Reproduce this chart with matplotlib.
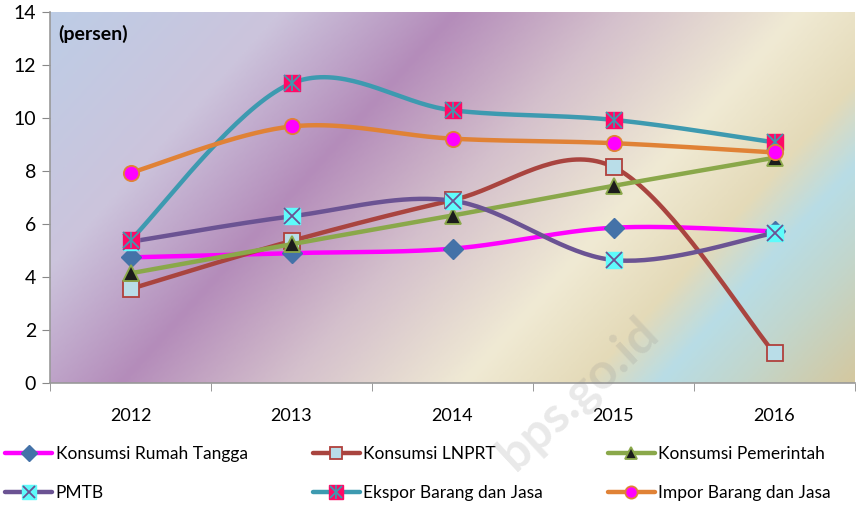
import numpy as np
import matplotlib.pyplot as plt
from matplotlib.colors import LinearSegmentedColormap
from matplotlib.legend_handler import HandlerTuple
from matplotlib.lines import Line2D

plt.rcParams['font.family'] = ['Lato', 'DejaVu Sans']

tahun = ['2012', '2013', '2014', '2015', '2016']

rumah_tangga = [4.74, 4.90, 5.07, 5.86, 5.72]
lnprt = [3.55, 5.36, 6.90, 8.15, 1.12]
pemerintah = [4.14, 5.24, 6.32, 7.44, 8.50]
pmtb = [5.33, 6.29, 6.88, 4.64, 5.66]
ekspor = [5.39, 11.31, 10.29, 9.93, 9.08]
impor = [7.93, 9.68, 9.22, 9.05, 8.70]


def halus(y, n=40):
    # kurva mulus ala Excel (Bezier dari titik tetangga)
    x = np.arange(len(y), dtype=float)
    y = np.asarray(y, dtype=float)
    xs, ys = [], []
    for i in range(len(y) - 1):
        i0 = max(i - 1, 0)
        i3 = min(i + 2, len(y) - 1)
        p0 = np.array([x[i], y[i]])
        p3 = np.array([x[i + 1], y[i + 1]])
        c1 = p0 + (np.array([x[i + 1], y[i + 1]]) - np.array([x[i0], y[i0]])) / 6
        c2 = p3 - (np.array([x[i3], y[i3]]) - np.array([x[i], y[i]])) / 6
        t = np.linspace(0, 1, n)[:, None]
        b = (1 - t) ** 3 * p0 + 3 * (1 - t) ** 2 * t * c1 + 3 * (1 - t) * t ** 2 * c2 + t ** 3 * p3
        xs.extend(b[:, 0]); ys.extend(b[:, 1])
    return np.array(xs), np.array(ys)


fig = plt.figure(figsize=(8.57, 5.08), dpi=100)
ax = fig.add_axes([50 / 857, 1 - 383 / 508, 805 / 857, 371 / 508])

# latar gradien diagonal (baris 0 = atas), koordinat piksel
px = np.linspace(50, 855, 400)
py = np.linspace(12, 383, 200)
PX, PY = np.meshgrid(px, py)
T = (PX + 0.9 * PY - 60.8) / 1138.9
warna_bg = [(0.0, '#bdcde6'), (0.2, '#ccc4dc'), (0.355, '#b48cba'),
            (0.5, '#d4c0cc'), (0.658, '#f0ead4'), (0.765, '#e4dab8'),
            (0.83, '#b8dde6'), (0.9, '#c2d6cc'), (1.0, '#d4c8a0')]
cmap = LinearSegmentedColormap.from_list('bg', warna_bg)
ax.imshow(T, cmap=cmap, vmin=0, vmax=1, extent=(-0.5, 4.5, 0, 14),
          origin='upper', aspect='auto', zorder=0, interpolation='bilinear')
ax.set_xlim(-0.5, 4.5)
ax.set_ylim(0, 14)

lw = 3.2
x = np.arange(len(tahun))
seri = [
    ('Konsumsi Rumah Tangga', rumah_tangga, '#ff00ff',
     [dict(marker='D', ms=10, mfc='#4472a8', mec='#4472a8')]),
    ('Konsumsi LNPRT', lnprt, '#a9443f',
     [dict(marker='s', ms=11, mfc='#b9dde8', mec='#b0403c', mew=1.3)]),
    ('Konsumsi Pemerintah', pemerintah, '#8aa84a',
     [dict(marker='^', ms=11, mfc='#1c1c1c', mec='#8aa84a', mew=1.3)]),
    ('PMTB', pmtb, '#6b5393',
     [dict(marker='s', ms=12, mfc='#5ffbfb', mec='#5ffbfb'),
      dict(marker='x', ms=11, mec='#6b5393', mew=1.3)]),
    ('Ekspor Barang dan Jasa', ekspor, '#3d9ab0',
     [dict(marker='s', ms=12, mfc='#ff0a66', mec='#ff0a66'),
      dict(marker='x', ms=11, mec='#3d9ab0', mew=1.3),
      dict(marker='|', ms=12, mec='#3d9ab0', mew=1.3)]),
    ('Impor Barang dan Jasa', impor, '#e08236',
     [dict(marker='o', ms=11, mfc='#ff00ff', mec='#e08236', mew=1.3)]),
]

handles = {}
for k, (nama, y, warna, mk) in enumerate(seri):
    xs, ys = halus(y)
    ax.plot(xs, ys, color=warna, lw=lw, solid_capstyle='round', zorder=3 + 2 * k)
    parts = [Line2D([], [], color=warna, lw=lw, solid_capstyle='round')]
    for m in mk:
        ax.plot(x, y, ls='none', zorder=4 + 2 * k, **m)
        legm = dict(m)
        legm['ms'] = m['ms'] * 0.8
        parts.append(Line2D([], [], ls='none', **legm))
    handles[nama] = tuple(parts)

ax.text(0.01, 0.965, '(persen)', transform=ax.transAxes, fontsize=14,
        fontweight='bold', va='top', ha='left', zorder=20)

ax.set_yticks(range(0, 15, 2))
ax.set_xticks(x)
ax.set_xticklabels(tahun)
ax.set_xticks(np.arange(-0.5, 4.6, 1), minor=True)
ax.tick_params(axis='x', which='major', length=0, labelsize=13, pad=18)
ax.tick_params(axis='x', which='minor', length=6, color='#888888')
ax.tick_params(axis='y', length=6, color='#888888', labelsize=14, pad=4)
for s in ['top', 'right']:
    ax.spines[s].set_visible(False)
for s in ['left', 'bottom']:
    ax.spines[s].set_color('#999999')
    ax.spines[s].set_linewidth(1.2)
    ax.spines[s].set_zorder(30)

urutan = ['Konsumsi Rumah Tangga', 'PMTB', 'Konsumsi LNPRT',
          'Ekspor Barang dan Jasa', 'Konsumsi Pemerintah', 'Impor Barang dan Jasa']
fig.legend([handles[n] for n in urutan], urutan, loc='lower left',
           bbox_to_anchor=(-0.008, -0.01), ncol=3, frameon=False, fontsize=12.5,
           handler_map={tuple: HandlerTuple(ndivide=1, pad=0)},
           handlelength=2.7, handletextpad=0.2, columnspacing=3.75,
           labelspacing=1.3, borderaxespad=0.3)

# tanda air
fig.text(0.675, 0.225, 'bps.go.id', fontsize=36, fontweight='bold',
         color='#909090', alpha=0.2, rotation=43, ha='center', va='center',
         zorder=50)

fig.savefig('out.png', dpi=100)
